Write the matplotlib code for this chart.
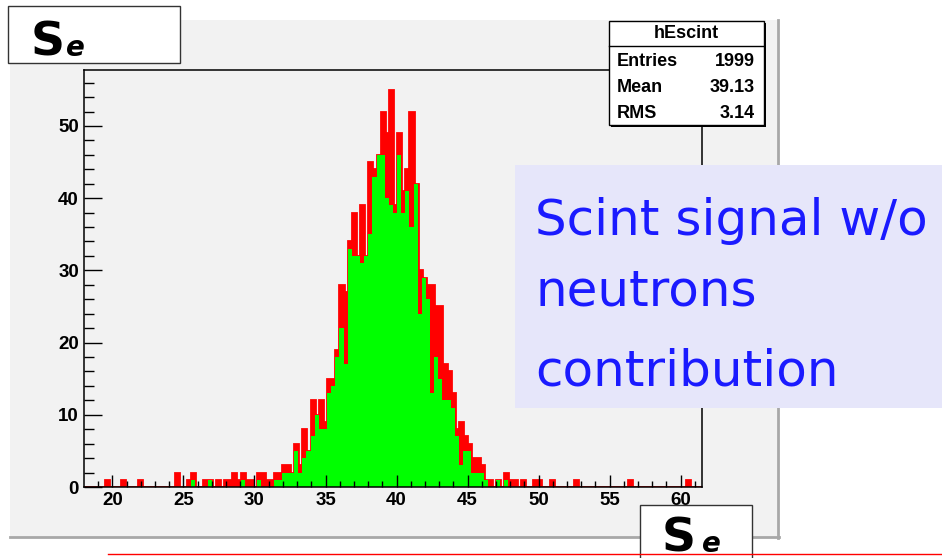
import numpy as np
import matplotlib
matplotlib.use('Agg')
import matplotlib.pyplot as plt
from matplotlib.patches import Rectangle

# histogram binning
x_lo, x_hi, n_bins = 18.0, 61.5, 150

# all events (red) and events without neutrons (green), 150 bins each
red_counts = [
    0, 0, 0, 0, 0, 1, 0, 0, 0, 1, 0, 0, 0, 1, 0, 0, 0, 0, 0, 0, 0, 0, 2, 0, 0,
    1, 2, 0, 0, 1, 1, 0, 1, 0, 1, 1, 2, 1, 2, 1, 1, 0, 2, 2, 1, 1, 2, 2, 3, 3,
    2, 6, 3, 8, 5, 12, 10, 12, 9, 15, 15, 19, 28, 27, 34, 38, 32, 39, 32, 45,
    44, 46, 52, 49, 55, 39, 49, 41, 44, 52, 42, 30, 29, 28, 28, 25, 25, 17, 16, 13,
    8, 9, 7, 6, 4, 4, 3, 1, 1, 0, 1, 0, 2, 1, 1, 0, 1, 0, 0, 1,
    1, 0, 0, 1, 0, 0, 0, 0, 0, 1, 0, 0, 0, 0, 0, 0, 0, 0, 0, 0,
    0, 0, 1, 0, 0, 0, 0, 0, 0, 0, 0, 0, 0, 0, 0, 0, 1, 0, 0, 0,
]
green_counts = [
    0, 0, 0, 0, 0, 0, 0, 0, 0, 0, 0, 0, 0, 0, 0, 0, 0, 0, 0, 0, 0, 0, 0, 0, 0,
    0, 1, 0, 0, 0, 1, 0, 0, 0, 0, 0, 0, 0, 1, 0, 0, 0, 1, 0, 0, 0, 1, 1, 2, 2,
    2, 5, 2, 4, 5, 7, 10, 8, 8, 13, 14, 18, 22, 17, 33, 32, 32, 31, 32, 35,
    43, 46, 46, 40, 39, 38, 46, 38, 41, 36, 42, 24, 29, 26, 13, 18, 15, 12, 12, 11,
    7, 3, 5, 5, 2, 2, 2, 1, 0, 0, 1, 0, 1, 0, 0, 0, 0, 0, 0, 0,
    0, 0, 0, 0, 0, 0, 0, 0, 0, 0, 0, 0, 0, 0, 0, 0, 0, 0, 0, 0,
    0, 0, 0, 0, 0, 0, 0, 0, 0, 0, 0, 0, 0, 0, 0, 0, 0, 0, 0, 0,
]
x_ticks = [20, 25, 30, 35, 40, 45, 50, 55, 60]
y_ticks = [0, 10, 20, 30, 40, 50]
y_max = 57.75

stats_title = 'hEscint'
stats_names = ['Entries', 'Mean', 'RMS']
stats_values = ['1999', '39.13', '3.14']
note_lines = ['Scint signal w/o', 'neutrons', 'contribution']

W, H = 942, 558
LAB = ['Liberation Sans', 'DejaVu Sans']

fig = plt.figure(figsize=(W / 100, H / 100), dpi=100, facecolor='white')

# pixel-space layer under the plot (ROOT pad)
bg = fig.add_axes([0, 0, 1, 1], zorder=0)
bg.set_xlim(0, W)
bg.set_ylim(H, 0)
bg.axis('off')
bg.add_patch(Rectangle((10, 20), 768, 517, facecolor='#f2f2f2', edgecolor='none'))
bg.plot([778, 778], [20, 538], color='#a8a8a8', lw=2)
bg.plot([10, 779], [537, 537], color='#a8a8a8', lw=2)

ax = fig.add_axes([84 / W, 71 / H, 618 / W, 417 / H], zorder=1)
ax.set_facecolor('#f2f2f2')
edges = np.linspace(x_lo, x_hi, n_bins + 1)
ax.stairs(red_counts, edges, fill=True, color='#ff0000', lw=0, zorder=1)
ax.stairs(red_counts, edges, color='#ff0000', lw=2, baseline=0, zorder=1.1)
ax.stairs(green_counts, edges, fill=True, color='#00ff00', lw=0, zorder=1.2)
ax.set_xlim(x_lo, x_hi)
ax.set_ylim(0, y_max)
ax.set_axisbelow(False)

ax.set_xticks(x_ticks)
ax.set_xticks(np.arange(19, 62, 1), minor=True)
ax.set_yticks(y_ticks)
ax.set_yticks(np.arange(2, 57, 2), minor=True)
ax.tick_params(axis='x', which='major', direction='in', length=8.6, width=1, pad=3.6)
ax.tick_params(axis='x', which='minor', direction='in', length=4.3, width=1)
ax.tick_params(axis='y', which='major', direction='in', length=13, width=1, pad=3.6)
ax.tick_params(axis='y', which='minor', direction='in', length=7.2, width=1)
for lab in ax.get_xticklabels() + ax.get_yticklabels():
    lab.set_fontfamily(LAB)
    lab.set_fontweight('bold')
    lab.set_fontsize(13.5)
for sp in ax.spines.values():
    sp.set_linewidth(1.1)
    sp.set_color('black')

# pixel-space layer over the plot: boxes and notes
fg = fig.add_axes([0, 0, 1, 1], zorder=2)
fg.set_xlim(0, W)
fg.set_ylim(H, 0)
fg.axis('off')
fg.patch.set_visible(False)

# stats box
fg.add_patch(Rectangle((611, 23), 155, 104, facecolor='black', edgecolor='none'))
fg.add_patch(Rectangle((609, 21), 155, 104, facecolor='white', edgecolor='black', lw=1))
fg.plot([609, 764], [46, 46], color='black', lw=1)
fg.text(686, 34, stats_title, ha='center', va='center', family=LAB,
        fontweight='bold', fontsize=13)
for i, (name, val) in enumerate(zip(stats_names, stats_values)):
    yy = 61 + i * 26
    fg.text(617, yy, name, ha='left', va='center', family=LAB, fontweight='bold', fontsize=13)
    fg.text(755, yy, val, ha='right', va='center', family=LAB, fontweight='bold', fontsize=13)

# note box
fg.add_patch(Rectangle((515, 165), 430, 243, facecolor='#e6e6fa', edgecolor='none'))
for txt, base in zip(note_lines, [235, 306, 385]):
    fg.text(535, base, txt, ha='left', va='baseline', color='#1a1aff',
            family='DejaVu Sans', fontsize=36)

# red rule at the bottom of the slide
fg.plot([108, W], [554, 554], color='#ff0000', lw=1)

# S_e labels
for (bx, by, bw, bh) in [(8, 6, 172, 57), (640, 505, 112, 60)]:
    fg.add_patch(Rectangle((bx, by), bw, bh, facecolor='white', edgecolor='#333333', lw=1))
for sx, ex, base in [(31, 66, 56), (662, 702, 552)]:
    fg.text(sx, base, 'S', ha='left', va='baseline', family='DejaVu Sans',
            fontweight='bold', fontsize=34)
    fg.text(ex, base, 'e', ha='left', va='baseline', family='DejaVu Sans',
            fontweight='bold', style='italic', fontsize=20)

fig.savefig('out.png', dpi=100, facecolor='white')
